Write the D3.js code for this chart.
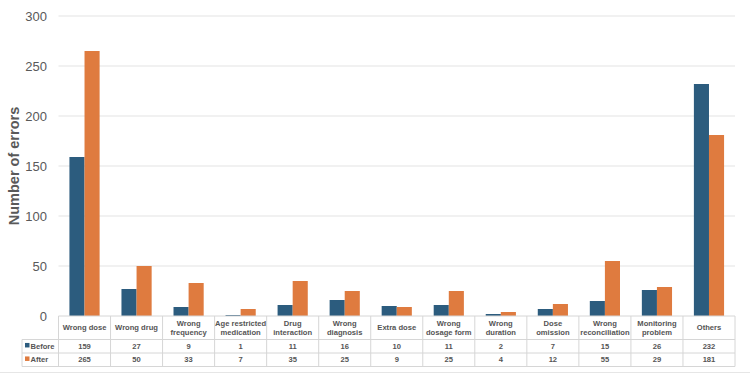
<!DOCTYPE html>
<html><head><meta charset="utf-8">
<script src="https://cdn.jsdelivr.net/npm/d3@7"></script>
<style>body{margin:0;background:#fff}svg{display:block}</style>
</head><body>
<svg id="c" width="750" height="375"></svg>
<script>
const categories = [["Wrong dose"],["Wrong drug"],["Wrong","frequency"],["Age restricted","medication"],["Drug","interaction"],["Wrong","diagnosis"],["Extra dose"],["Wrong","dosage form"],["Wrong","duration"],["Dose","omission"],["Wrong","reconciliation"],["Monitoring","problem"],["Others"]];
const seriesNames = ["Before","After"];
const before = [159,27,9,1,11,16,10,11,2,7,15,26,232];
const after = [265,50,33,7,35,25,9,25,4,12,55,29,181];
const yTicks = [0,50,100,150,200,250,300];
const colors = ["#2C5C7E","#DF7B3F"];

(function(){
const svg = d3.select("#c");
const pLeft = 58.5, pRight = 735, pTop = 16, pBottom = 316;
const x = d3.scaleBand().domain(d3.range(categories.length)).range([pLeft,pRight]).paddingInner(0).paddingOuter(0);
const x1 = d3.scaleBand().domain([0,1]).range([x.bandwidth()*0.21, x.bandwidth()*0.79]);
const y = d3.scaleLinear().domain([0,300]).range([pBottom,pTop]);

svg.append("g").selectAll("line").data(yTicks.filter(d=>d>0)).join("line")
  .attr("x1",pLeft).attr("x2",pRight).attr("y1",d=>y(d)).attr("y2",d=>y(d))
  .attr("stroke","#e3e3e3").attr("stroke-width",1);

const yAxis = d3.axisLeft(y).tickValues(yTicks).tickSize(0).tickPadding(0);
const ga = svg.append("g").attr("transform",`translate(47,0)`).call(yAxis);
ga.select(".domain").remove();
ga.selectAll("text").attr("font-family","Liberation Sans, Arial, sans-serif").attr("font-size",13).attr("fill","#595959").attr("dy","0.35em");

svg.append("text").attr("transform",`translate(19,166) rotate(-90)`)
  .attr("text-anchor","middle").attr("font-family","Liberation Sans, Arial, sans-serif")
  .attr("font-weight","bold").attr("font-size",14.5).attr("fill","#595959").text("Number of errors");

const data = [before, after];
const g = svg.append("g");
data.forEach((vals,si)=>{
  g.selectAll(null).data(vals).join("rect")
    .attr("x",(d,i)=>x(i)+x1(si)).attr("width",x1.bandwidth())
    .attr("y",d=>y(d)).attr("height",d=>pBottom-y(d))
    .attr("fill",colors[si]);
});

const tLeft = 22, rowTops = [316, 339.5, 353], tBottom = 366.5;
const tg = svg.append("g");
const lineC = "#d6d6d6";
tg.append("line").attr("x1",pLeft).attr("x2",pRight).attr("y1",rowTops[0]).attr("y2",rowTops[0]).attr("stroke",lineC);
[rowTops[1],rowTops[2],tBottom].forEach(yy=>{
  tg.append("line").attr("x1",tLeft).attr("x2",pRight).attr("y1",yy).attr("y2",yy).attr("stroke",lineC);
});
tg.append("line").attr("x1",tLeft).attr("x2",tLeft).attr("y1",rowTops[1]).attr("y2",tBottom).attr("stroke",lineC);
d3.range(categories.length+1).forEach(i=>{
  const xx = i<categories.length ? x(i) : pRight;
  tg.append("line").attr("x1",xx).attr("x2",xx).attr("y1",rowTops[0]).attr("y2",tBottom).attr("stroke",lineC);
});
const font = "Liberation Sans, Arial, sans-serif";
const fs = 7.6;
categories.forEach((lines,i)=>{
  const cx = x(i)+x.bandwidth()/2;
  const cy = (rowTops[0]+rowTops[1])/2;
  const t = tg.append("text").attr("text-anchor","middle").attr("font-family",font).attr("font-weight","bold")
    .attr("font-size",fs).attr("fill","#555");
  lines.forEach((ln,k)=>{
    t.append("tspan").attr("x",cx).attr("y",cy + (k - (lines.length-1)/2)*9 + 2.7).text(ln);
  });
});
data.forEach((vals,si)=>{
  const cy = (rowTops[si+1] + (si===0?rowTops[2]:tBottom))/2 + 2.7;
  tg.append("rect").attr("x",tLeft+3).attr("y",cy-6).attr("width",4.5).attr("height",4.5).attr("fill",colors[si]);
  tg.append("text").attr("x",tLeft+8.5).attr("y",cy).attr("font-family",font).attr("font-weight","bold")
    .attr("font-size",fs).attr("fill","#555").text(seriesNames[si]);
  tg.selectAll(null).data(vals).join("text")
    .attr("x",(d,i)=>x(i)+x.bandwidth()/2).attr("y",cy).attr("text-anchor","middle")
    .attr("font-family",font).attr("font-weight","bold").attr("font-size",fs).attr("fill","#555").text(d=>d);
});
svg.append("line").attr("x1",0).attr("x2",750).attr("y1",372.5).attr("y2",372.5).attr("stroke","#e6e6e6");
})();
</script>
</body></html>
